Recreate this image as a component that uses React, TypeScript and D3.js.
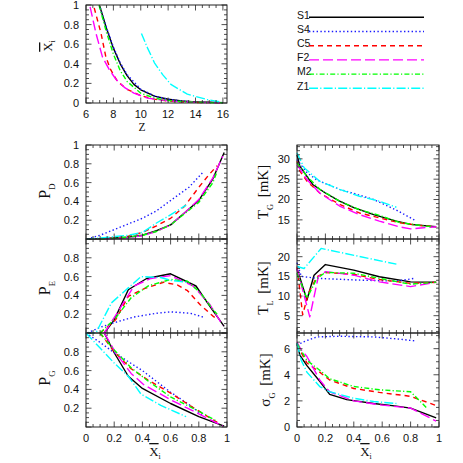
import * as d3 from "d3";

type Pt = [number, number];

const names = ["S1", "S4", "C5", "F2", "M2", "Z1"];
const colors = ["#000000", "#1a1aff", "#ff0000", "#ff00ff", "#00ff00", "#00ffff"];
const dashes = ["none", "1.4,2.4", "5,4", "10,4", "5,2.2,1.2,2.2", "9,2.2,1.2,2.2"];

// mean X_i vs Z
const xzS1: Pt[] = [[7.0, 0.99], [7.5, 0.76], [8, 0.56], [8.5, 0.4], [9, 0.28], [9.5, 0.19], [10, 0.135], [11, 0.07], [12, 0.038], [13, 0.02], [14, 0.012], [15, 0.007], [16, 0.004]];
const xzS4: Pt[] = [[7.05, 0.97], [7.3, 0.85], [8, 0.57], [8.5, 0.41], [9, 0.29], [10, 0.14], [11, 0.072], [12, 0.038], [13, 0.02], [14, 0.011], [15, 0.006], [16, 0.003]];
const xzC5: Pt[] = [[6.6, 0.97], [7.1, 0.71], [7.45, 0.47], [7.8, 0.34], [8.3, 0.22], [9, 0.14], [10, 0.075], [11, 0.04], [12, 0.02], [13, 0.011], [14, 0.006], [15.9, 0.002]];
const xzF2: Pt[] = [[6.3, 0.98], [6.73, 0.71], [7.2, 0.47], [7.7, 0.34], [8.2, 0.24], [8.8, 0.16], [9.5, 0.1], [10.5, 0.05], [12, 0.022], [13, 0.012], [14, 0.006], [15.9, 0.002]];
const xzM2: Pt[] = [[6.95, 1.0], [7.5, 0.72], [8, 0.5], [8.5, 0.33], [9, 0.22], [10, 0.1], [11, 0.05], [12, 0.025], [13, 0.014], [14, 0.008], [15, 0.004], [16, 0.002]];
const xzZ1: Pt[] = [[10.05, 0.71], [10.5, 0.56], [11, 0.41], [11.6, 0.29], [12.2, 0.19], [13.4, 0.09], [14.85, 0.035], [15.9, 0.008]];

// P_D vs mean X_i
const pdS1: Pt[] = [[0.02, 0], [0.1, 0.002], [0.2, 0.01], [0.3, 0.02], [0.4, 0.04], [0.5, 0.09], [0.6, 0.15], [0.7, 0.28], [0.8, 0.41], [0.9, 0.64], [0.98, 0.92]];
const pdS4: Pt[] = [[0.01, 0], [0.1, 0.04], [0.2, 0.1], [0.3, 0.16], [0.4, 0.22], [0.5, 0.3], [0.6, 0.41], [0.73, 0.55], [0.83, 0.71]];
const pdC5: Pt[] = [[0.1, 0], [0.2, 0.01], [0.3, 0.03], [0.4, 0.07], [0.5, 0.14], [0.6, 0.22], [0.7, 0.35], [0.8, 0.55], [0.87, 0.68], [0.93, 0.78]];
const pdF2: Pt[] = [[0.13, 0], [0.2, 0.005], [0.3, 0.015], [0.4, 0.035], [0.5, 0.08], [0.6, 0.15], [0.7, 0.28], [0.8, 0.42], [0.9, 0.65], [0.97, 0.88]];
const pdM2: Pt[] = [[0.1, 0], [0.2, 0.008], [0.3, 0.02], [0.4, 0.04], [0.5, 0.08], [0.6, 0.15], [0.7, 0.27], [0.8, 0.39], [0.9, 0.6], [0.93, 0.72]];
const pdZ1: Pt[] = [[0.0, 0], [0.1, 0.01], [0.2, 0.025], [0.3, 0.04], [0.4, 0.07], [0.5, 0.17], [0.58, 0.24], [0.71, 0.36]];

// P_E vs mean X_i
const peS1: Pt[] = [[0.13, 0], [0.2, 0.14], [0.3, 0.46], [0.43, 0.58], [0.6, 0.63], [0.78, 0.5], [0.88, 0.28], [0.98, 0.07]];
const peS4: Pt[] = [[0.01, 0], [0.1, 0.06], [0.2, 0.11], [0.34, 0.17], [0.5, 0.21], [0.6, 0.225], [0.74, 0.21], [0.83, 0.17]];
const peC5: Pt[] = [[0.1, 0], [0.21, 0.14], [0.3, 0.39], [0.41, 0.47], [0.55, 0.54], [0.65, 0.51], [0.72, 0.45], [0.81, 0.3], [0.9, 0.18], [0.93, 0.15]];
const peF2: Pt[] = [[0.13, 0], [0.22, 0.21], [0.34, 0.5], [0.46, 0.58], [0.6, 0.61], [0.76, 0.5], [0.88, 0.3], [0.97, 0.08]];
const peM2: Pt[] = [[0.1, 0], [0.21, 0.16], [0.32, 0.375], [0.44, 0.5], [0.6, 0.57], [0.72, 0.55], [0.81, 0.43], [0.9, 0.25], [0.93, 0.2]];
const peZ1: Pt[] = [[0.0, 0], [0.07, 0], [0.18, 0.32], [0.3, 0.48], [0.39, 0.6], [0.53, 0.59], [0.6, 0.56], [0.71, 0.54]];

// P_G vs mean X_i
const pgS1: Pt[] = [[0.13, 1], [0.2, 0.79], [0.3, 0.54], [0.4, 0.41], [0.6, 0.25], [0.8, 0.11], [0.98, 0.01]];
const pgS4: Pt[] = [[0.0, 1], [0.1, 0.9], [0.2, 0.79], [0.4, 0.6], [0.6, 0.37], [0.73, 0.24], [0.83, 0.12]];
const pgC5: Pt[] = [[0.1, 1], [0.2, 0.8], [0.32, 0.62], [0.44, 0.5], [0.6, 0.36], [0.81, 0.16], [0.94, 0.04]];
const pgF2: Pt[] = [[0.13, 1], [0.21, 0.79], [0.32, 0.57], [0.41, 0.45], [0.6, 0.29], [0.8, 0.14], [0.97, 0.01]];
const pgM2: Pt[] = [[0.1, 1], [0.2, 0.82], [0.32, 0.63], [0.44, 0.49], [0.6, 0.32], [0.81, 0.16], [0.93, 0.06]];
const pgZ1: Pt[] = [[0.0, 1], [0.1, 0.84], [0.2, 0.68], [0.3, 0.54], [0.39, 0.35], [0.53, 0.23], [0.71, 0.11]];

// T_G [mK] vs mean X_i
const tgS1: Pt[] = [[0, 31], [0.02, 28.2], [0.07, 25.7], [0.11, 23.7], [0.2, 21.6], [0.3, 19.6], [0.4, 18], [0.54, 16.3], [0.7, 14.7], [0.8, 13.9], [0.98, 13.3]];
const tgS4: Pt[] = [[0, 29.8], [0.07, 26.6], [0.14, 24.8], [0.3, 22.5], [0.4, 21.5], [0.54, 20], [0.7, 17.4], [0.83, 14.9]];
const tgC5: Pt[] = [[0, 29.4], [0.02, 27], [0.07, 24.5], [0.16, 21.6], [0.3, 18.8], [0.44, 16.7], [0.58, 15.5], [0.72, 14.3], [0.87, 13.6], [0.98, 13.3]];
const tgF2: Pt[] = [[0, 28.6], [0.07, 24.9], [0.16, 21.6], [0.3, 18.4], [0.44, 16.3], [0.58, 14.7], [0.72, 13.3], [0.8, 12.8], [0.87, 13.0], [0.98, 13.3]];
const tgM2: Pt[] = [[0, 29], [0.07, 25.7], [0.16, 22.5], [0.3, 19.6], [0.44, 17.5], [0.58, 16.1], [0.72, 14.4], [0.87, 13.6], [0.96, 13.3]];
const tgZ1: Pt[] = [[0, 31.5], [0.05, 27.8], [0.16, 24.5], [0.3, 22.5], [0.44, 20.8], [0.58, 19.6], [0.7, 18.1]];

// T_L [mK] vs mean X_i
const tlS1: Pt[] = [[0, 17], [0.07, 9], [0.12, 15.3], [0.2, 18], [0.4, 16.6], [0.58, 14.9], [0.8, 13.6], [0.98, 13.5]];
const tlS4: Pt[] = [[0, 18.5], [0.03, 15], [0.14, 14.5], [0.4, 14.1], [0.58, 13.9], [0.7, 13.8], [0.83, 14.5]];
const tlC5: Pt[] = [[0, 17.5], [0.04, 5.2], [0.08, 10.7], [0.14, 14.9], [0.2, 16], [0.4, 15.5], [0.58, 14.2], [0.8, 13.2], [0.98, 13.5]];
const tlF2: Pt[] = [[0, 17], [0.09, 4.7], [0.15, 14.9], [0.2, 16.2], [0.4, 15.3], [0.58, 13.6], [0.8, 12.4], [0.98, 13.5]];
const tlM2: Pt[] = [[0, 15.8], [0.07, 9.4], [0.14, 14.5], [0.2, 16], [0.4, 15.8], [0.58, 14.5], [0.8, 13], [0.98, 13.5]];
const tlZ1: Pt[] = [[0, 17.5], [0.05, 17], [0.17, 22.1], [0.7, 18.1]];

// sigma_G [mK] vs mean X_i
const sgS1: Pt[] = [[0, 6.4], [0.02, 5.5], [0.07, 4.7], [0.16, 3.5], [0.23, 2.5], [0.35, 2.1], [0.54, 1.8], [0.7, 1.6], [0.8, 1.45], [0.98, 0.7]];
const sgS4: Pt[] = [[0, 6.25], [0.04, 6.5], [0.14, 6.9], [0.3, 6.95], [0.54, 6.9], [0.7, 6.75], [0.83, 6.6]];
const sgC5: Pt[] = [[0, 6.3], [0.07, 4.9], [0.16, 4.2], [0.23, 3.6], [0.4, 2.95], [0.58, 2.65], [0.8, 2.35], [0.98, 1.65]];
const sgF2: Pt[] = [[0, 6.5], [0.03, 5.9], [0.07, 5.4], [0.16, 3.6], [0.23, 2.7], [0.4, 2.0], [0.58, 1.7], [0.8, 1.45], [0.98, 0.45]];
const sgM2: Pt[] = [[0, 6.4], [0.07, 5.1], [0.16, 4.35], [0.23, 3.7], [0.4, 3.1], [0.58, 2.85], [0.8, 2.7], [0.91, 1.5]];
const sgZ1: Pt[] = [[0, 6.4], [0.03, 5.1], [0.07, 4.2], [0.16, 3.1], [0.23, 2.7], [0.4, 2.2], [0.54, 1.95], [0.7, 1.8]];

const fracLabels = [0, 0.2, 0.4, 0.6, 0.8, 1];

type Panel = {
  xr: [number, number];
  yr: [number, number];
  xd: [number, number];
  yd: [number, number];
  xMaj: number;
  xMin: number;
  yMaj: number;
  yMin: number;
  xLabels: number[];
  yLabels: number[];
  series: Pt[][];
};

const LX: [number, number] = [86, 227];
const RX: [number, number] = [297, 439];

const panels: Panel[] = [
  { xr: LX, yr: [103, 5], xd: [6, 16.3], yd: [0, 1], xMaj: 2, xMin: 0.5, yMaj: 0.2, yMin: 0.05,
    xLabels: [6, 8, 10, 12, 14, 16], yLabels: fracLabels, series: [xzS1, xzS4, xzC5, xzF2, xzM2, xzZ1] },
  { xr: LX, yr: [239, 145], xd: [0, 1], yd: [0, 1], xMaj: 0.2, xMin: 0.05, yMaj: 0.2, yMin: 0.05,
    xLabels: [], yLabels: [0.2, 0.4, 0.6, 0.8, 1], series: [pdS1, pdS4, pdC5, pdF2, pdM2, pdZ1] },
  { xr: LX, yr: [333, 239], xd: [0, 1], yd: [0, 1], xMaj: 0.2, xMin: 0.05, yMaj: 0.2, yMin: 0.05,
    xLabels: [], yLabels: [0.2, 0.4, 0.6, 0.8], series: [peS1, peS4, peC5, peF2, peM2, peZ1] },
  { xr: LX, yr: [427, 333], xd: [0, 1], yd: [0, 1], xMaj: 0.2, xMin: 0.05, yMaj: 0.2, yMin: 0.05,
    xLabels: fracLabels, yLabels: [0.2, 0.4, 0.6, 0.8], series: [pgS1, pgS4, pgC5, pgF2, pgM2, pgZ1] },
  { xr: RX, yr: [239, 145], xd: [0, 1], yd: [10.3, 33.4], xMaj: 0.2, xMin: 0.05, yMaj: 5, yMin: 1,
    xLabels: [], yLabels: [15, 20, 25, 30], series: [tgS1, tgS4, tgC5, tgF2, tgM2, tgZ1] },
  { xr: RX, yr: [333, 239], xd: [0, 1], yd: [0.6, 24.5], xMaj: 0.2, xMin: 0.05, yMaj: 5, yMin: 1,
    xLabels: [], yLabels: [5, 10, 15, 20], series: [tlS1, tlS4, tlC5, tlF2, tlM2, tlZ1] },
  { xr: RX, yr: [427, 333], xd: [0, 1], yd: [0, 7.2], xMaj: 0.2, xMin: 0.05, yMaj: 2, yMin: 0.5,
    xLabels: fracLabels, yLabels: [0, 2, 4, 6], series: [sgS1, sgS4, sgC5, sgF2, sgM2, sgZ1] },
];

const SANS = "'Liberation Sans', Arial, Helvetica, sans-serif";
const SERIF = "'Liberation Serif', 'Times New Roman', serif";
const FRAME = "#222";

function tickVals(d: [number, number], step: number) {
  const a = Math.ceil(d[0] / step - 1e-6);
  const b = Math.floor(d[1] / step + 1e-6);
  return d3.range(a, b + 1).map((k) => +(k * step).toFixed(6));
}

const isMajor = (v: number, step: number) => Math.abs(v / step - Math.round(v / step)) < 1e-6;

function PanelView({ p }: { p: Panel }) {
  const x = d3.scaleLinear().domain(p.xd).range(p.xr);
  const y = d3.scaleLinear().domain(p.yd).range(p.yr);
  const line = d3.line<Pt>().x((d) => x(d[0])).y((d) => y(d[1]));
  const [x0, x1] = p.xr;
  const [yb, yt] = p.yr;
  const big = 5.5;
  const small = 3;

  const xt = tickVals(p.xd, p.xMin);
  const yt2 = tickVals(p.yd, p.yMin);

  return (
    <g>
      {p.series.map((s, i) => (
        <path key={i} d={line(s) || ""} fill="none" stroke={colors[i]} strokeWidth={1.4}
          strokeDasharray={dashes[i]} strokeLinejoin="round" />
      ))}
      <rect x={x0} y={yt} width={x1 - x0} height={yb - yt} fill="none" stroke={FRAME} strokeWidth={1} />
      {xt.map((v) => {
        const len = isMajor(v, p.xMaj) ? big : small;
        const px = x(v);
        return (
          <g key={"x" + v}>
            <line x1={px} x2={px} y1={yb} y2={yb - len} stroke={FRAME} strokeWidth={0.8} />
            <line x1={px} x2={px} y1={yt} y2={yt + len} stroke={FRAME} strokeWidth={0.8} />
          </g>
        );
      })}
      {yt2.map((v) => {
        const len = isMajor(v, p.yMaj) ? big : small;
        const py = y(v);
        return (
          <g key={"y" + v}>
            <line x1={x0} x2={x0 + len} y1={py} y2={py} stroke={FRAME} strokeWidth={0.8} />
            <line x1={x1} x2={x1 - len} y1={py} y2={py} stroke={FRAME} strokeWidth={0.8} />
          </g>
        );
      })}
      {p.yLabels.map((v) => (
        <text key={"yl" + v} x={x0 - 7} y={y(v)} dy="0.36em" textAnchor="end"
          fontFamily={SANS} fontSize={11} fill="#111">{String(v)}</text>
      ))}
      {p.xLabels.map((v) => (
        <text key={"xl" + v} x={x(v)} y={yb + 15} textAnchor="middle"
          fontFamily={SANS} fontSize={11} fill="#111">{String(v)}</text>
      ))}
    </g>
  );
}

function Legend() {
  return (
    <g>
      {names.map((n, i) => {
        const base = 18.5 + i * 14.2;
        return (
          <g key={n}>
            <text x={297} y={base} fontFamily={SANS} fontSize={10.5} fill="#111">{n}</text>
            <line x1={309} x2={424} y1={base - 1.2} y2={base - 1.2} stroke={colors[i]}
              strokeWidth={1.4} strokeDasharray={dashes[i]} />
          </g>
        );
      })}
    </g>
  );
}

function YTitle({ x, y, main, sub, unit, size = 16 }: { x: number; y: number; main: string; sub: string; unit?: boolean; size?: number }) {
  return (
    <text transform={`translate(${x},${y}) rotate(-90)`} textAnchor="middle" fontFamily={SERIF} fontSize={size} fill="#111">
      <tspan>{main}</tspan>
      <tspan fontSize={size * 0.55} dy={size * 0.3}>{sub}</tspan>
      {unit ? <tspan dy={-size * 0.3} dx={size * 0.45}>[mK]</tspan> : null}
    </text>
  );
}

function XBar({ x, y, size, rotate }: { x: number; y: number; size: number; rotate?: boolean }) {
  return (
    <text transform={`translate(${x},${y})${rotate ? " rotate(-90)" : ""}`} textAnchor="middle"
      fontFamily={SERIF} fontSize={size} fill="#111">
      <tspan style={{ textDecoration: "overline" }}>X</tspan>
      <tspan fontSize={size * 0.6} dy={size * 0.22}>i</tspan>
    </text>
  );
}

export default function App() {
  return (
    <svg width={463} height={463} viewBox="0 0 463 463"
      style={{ position: "absolute", left: 0, top: 0, background: "#fff" }}>
      <rect width={463} height={463} fill="#fff" />
      {panels.map((p, i) => (
        <PanelView key={i} p={p} />
      ))}
      <Legend />
      <XBar x={52} y={46} size={13} rotate />
      <text x={142} y={131} textAnchor="middle" fontFamily={SERIF} fontSize={11.5} fill="#111">Z</text>
      <YTitle x={50} y={191} main="P" sub="D" />
      <YTitle x={50} y={288} main="P" sub="E" />
      <YTitle x={50} y={378} main="P" sub="G" />
      <YTitle x={268} y={192} main="T" sub="G" unit size={15} />
      <YTitle x={268} y={288} main="T" sub="L" unit size={15} />
      <YTitle x={270} y={380} main="σ" sub="G" unit size={15} />
      <XBar x={155} y={456} size={13} />
      <XBar x={366} y={456} size={13} />
    </svg>
  );
}
